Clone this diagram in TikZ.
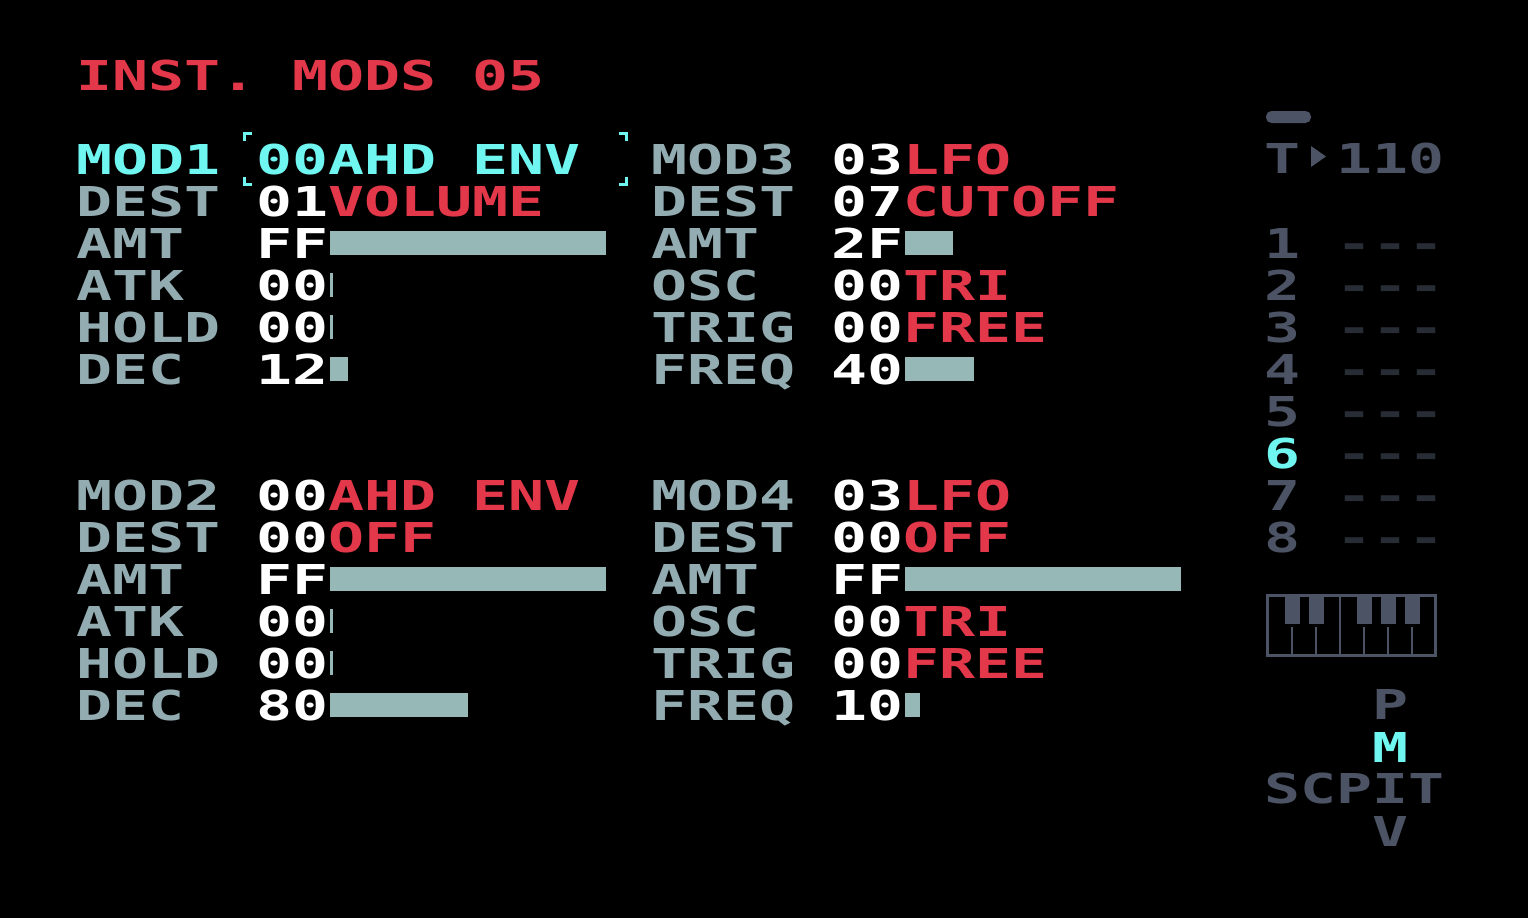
\documentclass[tikz,border=0pt]{standalone}
\usepackage{fontspec}
\usetikzlibrary{calc}

\newfontfamily\pixfam[FakeStretch=1.4533]{DejaVu Sans Mono}
\newcommand\pixmain{\pixfam\bfseries\frenchspacing\fontsize{41.15}{42}\selectfont}

\definecolor{m8red}{RGB}{227,56,74}
\definecolor{m8cyan}{RGB}{112,246,240}
\definecolor{m8label}{RGB}{146,172,177}
\definecolor{m8bar}{RGB}{150,184,182}
\definecolor{m8dim}{RGB}{76,83,100}
\definecolor{m8dash}{RGB}{40,45,53}

\begin{document}
\begin{tikzpicture}
	[x=1pt,y=-1pt,
	every node/.style={inner sep=0pt,anchor=base west,font=\pixmain},
	lab/.style={text=m8label},
	num/.style={text=white},
	word/.style={text=m8red},
	side/.style={text=m8dim},
	bar/.style={fill=m8bar}]
	\fill[black] (0,0) rectangle (1528,918);
	
	\node[word] (title) at (76,90) {INST. MODS 05};
	
	% selected row
	\node[lab,text=m8cyan] (a1-lab) at (76,174) {MOD1};
	\node[num,text=m8cyan] (a1-num) at (256,174) {00};
	\node[word,text=m8cyan] (a1-wd) at (a1-num.base east) {AHD ENV};
	\draw[m8cyan,line width=3pt] (252,133.5) -| (244.5,141);
	\draw[m8cyan,line width=3pt] (252,184.5) -| (244.5,177);
	\draw[m8cyan,line width=3pt] (619,133.5) -| (626.5,141);
	\draw[m8cyan,line width=3pt] (619,184.5) -| (626.5,177);
	
	% the other rows
	\foreach \nm/\lx/\y/\lab/\num in {a2/76/216/DEST/01, a3/76/258/AMT/FF,
		a4/76/300/ATK/00, a5/76/342/HOLD/00, a6/76/384/DEC/12,
		b1/651/174/MOD3/03, b2/651/216/DEST/07, b3/651/258/AMT/2F,
		b4/651/300/OSC/00, b5/651/342/TRIG/00, b6/651/384/FREQ/40,
		c1/76/510/MOD2/00, c2/76/552/DEST/00, c3/76/594/AMT/FF,
		c4/76/636/ATK/00, c5/76/678/HOLD/00, c6/76/720/DEC/80,
		d1/651/510/MOD4/03, d2/651/552/DEST/00, d3/651/594/AMT/FF,
		d4/651/636/OSC/00, d5/651/678/TRIG/00, d6/651/720/FREQ/10}
	{
		\node[lab] (\nm-lab) at (\lx,\y) {\lab};
		\node[num] (\nm-num) at ({\lx+180},\y) {\num};
	}
	\foreach \nm/\word in {a2/VOLUME, b1/LFO, b2/CUTOFF, b4/TRI, b5/FREE,
		c1/AHD ENV, c2/OFF, d1/LFO, d2/OFF, d4/TRI, d5/FREE}
	{
		\node[word] (\nm-wd) at (\nm-num.base east) {\word};
	}
	\foreach \nm/\len in {a3/276, a4/3, a5/3, a6/18, b3/48, b6/69,
		c3/276, c4/3, c5/3, c6/138, d3/276, d6/15}
	{
		\fill[bar] ($(\nm-num.base east)+(2,-3)$) rectangle +(\len,-24);
	}
	
	% side panel
	\fill[m8dim,rounded corners=5.5pt] (1266,111) rectangle (1311,123);
	\node[side] (tempo-t) at (1264,173) {T};
	\fill[m8dim] (1311,146) -- (1326,156.5) -- (1311,167) -- cycle;
	\node[side] (tempo) at (1336,173) {110};
	\foreach \n/\col in {1/m8dim, 2/m8dim, 3/m8dim, 4/m8dim,
		5/m8dim, 6/m8cyan, 7/m8dim, 8/m8dim}
	{
		\node[side,text=\col] (trk-\n) at (1264,{216+42*\n}) {\n};
		\node[side,text=m8dash] (pat-\n) at (1336,{216+42*\n}) {-{}-{}-};
	}
	
	% keyboard
	\draw[m8dim,line width=3pt] (1267.5,595.5) rectangle (1435.5,655.5);
	\foreach \k in {1292,1316,1364,1388,1412}
	{
		\fill[m8dim] ({\k-7.5},597) rectangle ({\k+7.5},624);
		\draw[m8dim,line width=2pt] (\k,627) -- (\k,655);
	}
	\draw[m8dim,line width=2pt] (1340,597) -- (1340,655);
	
	\node[side] (view-p) at (1372,719) {P};
	\node[side,text=m8cyan] (view-m) at (1372,762) {M};
	\node[side] (view-row) at (1264,803) {SCPIT};
	\node[side] (view-v) at (1372,846) {V};
\end{tikzpicture}
\end{document}
